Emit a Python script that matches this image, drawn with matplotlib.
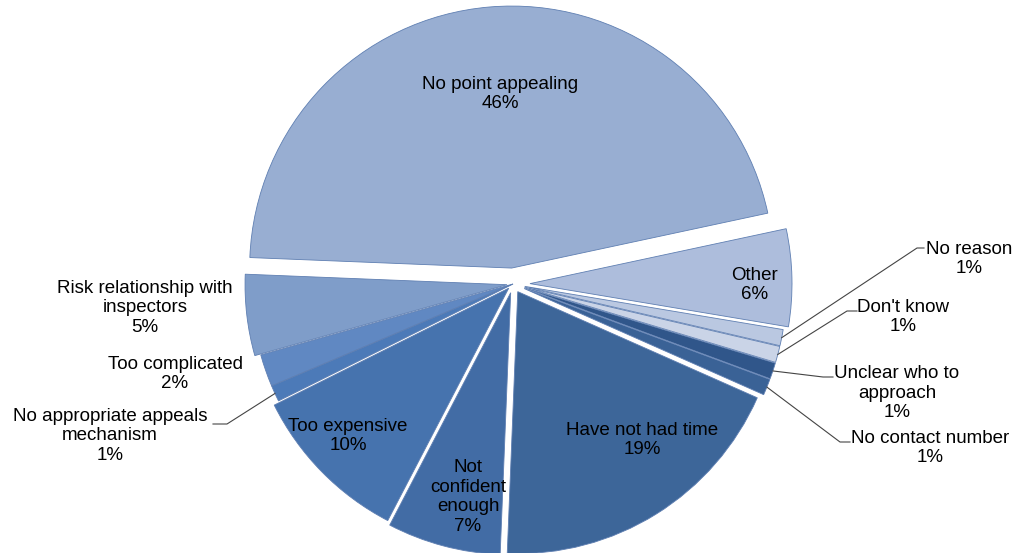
import matplotlib.pyplot as plt
import numpy as np

plt.rcParams['font.family'] = ['Liberation Sans', 'DejaVu Sans']

labels = ["Other", "No point appealing", "Risk relationship with\ninspectors",
          "Too complicated", "No appropriate appeals\nmechanism", "Too expensive",
          "Not\nconfident\nenough", "Have not had time", "No contact number",
          "Unclear who to\napproach", "Don't know", "No reason"]
values = [6, 46, 5, 2, 1, 10, 7, 19, 1, 1, 1, 1]

colors = ["#adbddc", "#98aed2", "#7f9dc9", "#6088c2", "#4c7ab8", "#4673ae",
          "#426ca5", "#3d6699", "#3a6296", "#30568a", "#cad4e7", "#bac8e1"]
# explosion in pixels (data units are pixels here)
explode_px = [17, 16, 6, 0, 0, 6, 9, 9, 12, 12, 12, 12]

W, H = 1016, 553
fig = plt.figure(figsize=(W / 100, H / 100), dpi=100)
ax = fig.add_axes([0, 0, 1, 1])

cx, cy, r = 513, H - 284, 262
wedges, _ = ax.pie(values, colors=colors, explode=explode_px, startangle=-9.5,
                   counterclock=True, center=(cx, cy), radius=r,
                   wedgeprops=dict(edgecolor="#5f7fb2", linewidth=0.6))
ax.set_xlim(0, W)
ax.set_ylim(0, H)
ax.set_aspect("equal")
ax.axis("off")


def img(x, y):
    return x, H - y


def pct(i):
    return f"{labels[i]}\n{values[i]}%"


fs = 13.5
# labels inside slices / beside them (image pixel positions)
inside = {0: (755, 285), 1: (500, 94), 5: (348, 436), 6: (468, 497), 7: (642, 440)}
for i, (x, y) in inside.items():
    ax.text(*img(x, y), pct(i), ha="center", va="center", fontsize=fs)

ax.text(*img(145, 308), pct(2), ha="center", va="center", fontsize=fs)
ax.text(*img(175, 374), pct(3), ha="center", va="center", fontsize=fs)

# labels with leader lines: (slice, elbow, end, text centre)
leaders = [
    (4, (227, 424), (213, 424), (110, 436)),
    (11, (917, 248), (924, 248), (969, 259)),
    (10, (847, 311), (857, 311), (903, 317)),
    (9, (823, 377), (833, 377), (897, 393)),
    (8, (840, 442), (850, 442), (930, 448)),
]
for i, elbow, end, txt in leaders:
    w = wedges[i]
    th = np.deg2rad(0.5 * (w.theta1 + w.theta2))
    ax0 = w.center[0] + w.r * np.cos(th)
    ay0 = w.center[1] + w.r * np.sin(th)
    ex, ey = img(*elbow)
    tx, ty = img(*end)
    ax.plot([ax0, ex, tx], [ay0, ey, ty], color="#444444", linewidth=0.8)
    ax.text(*img(*txt), pct(i), ha="center", va="center", fontsize=fs)

fig.savefig("out.png", dpi=100)
